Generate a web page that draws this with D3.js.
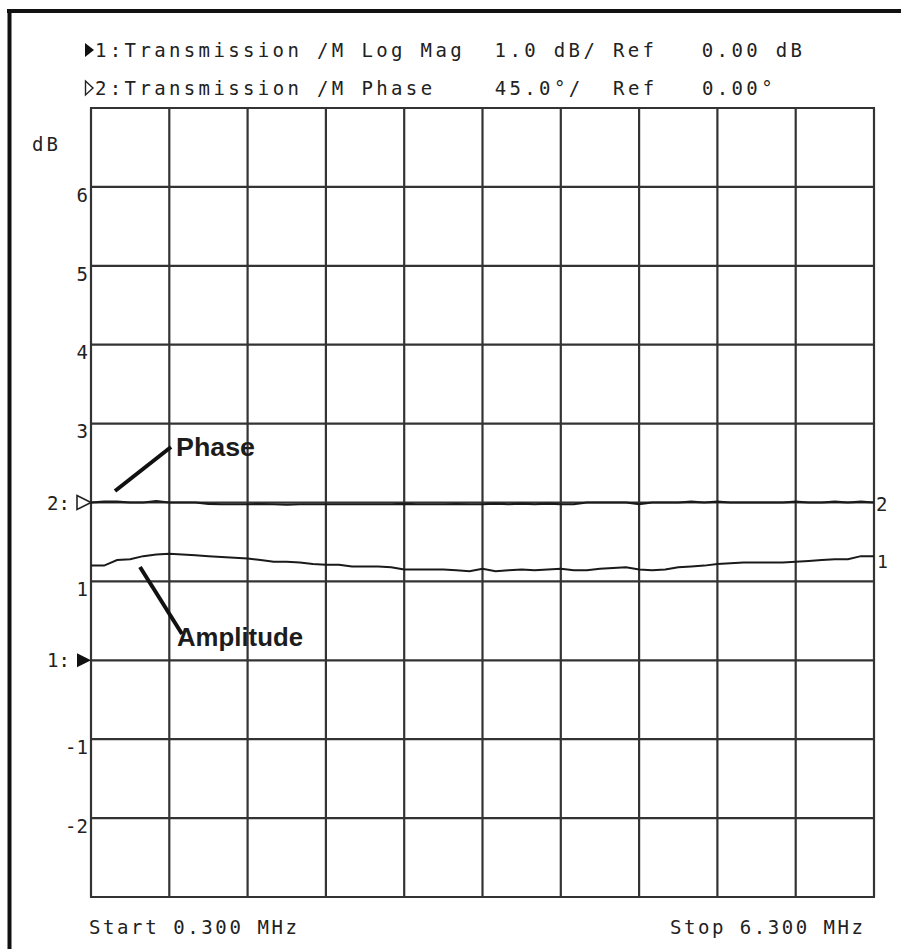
<!DOCTYPE html>
<html>
<head>
<meta charset="utf-8">
<script src="https://cdn.jsdelivr.net/npm/d3@7"></script>
<style>
  body { margin: 0; background: #fff; }
  svg { display: block; }
  .mono { font-family: "DejaVu Sans Mono", "Liberation Mono", monospace; fill: #222; white-space: pre; }
  .note { font-family: "Liberation Sans", Arial, sans-serif; font-weight: bold; fill: #1c1c1c; }
</style>
</head>
<body>
<script>
// sweep points, MHz
let freqs = [0.3, 0.4, 0.5, 0.6, 0.7, 0.8, 0.9, 1.0, 1.1, 1.2,
             1.3, 1.4, 1.5, 1.6, 1.7, 1.8, 1.9, 2.0, 2.1, 2.2,
             2.3, 2.4, 2.5, 2.6, 2.7, 2.8, 2.9, 3.0, 3.1, 3.2,
             3.3, 3.4, 3.5, 3.6, 3.7, 3.8, 3.9, 4.0, 4.1, 4.2,
             4.3, 4.4, 4.5, 4.6, 4.7, 4.8, 4.9, 5.0, 5.1, 5.2,
             5.3, 5.4, 5.5, 5.6, 5.7, 5.8, 5.9, 6.0, 6.1, 6.2, 6.3];

// trace 1: log mag, dB
let amplitude = [1.20, 1.20, 1.27, 1.28, 1.32, 1.34, 1.35, 1.34, 1.33, 1.32,
                 1.31, 1.30, 1.29, 1.27, 1.25, 1.25, 1.24, 1.22, 1.21, 1.21,
                 1.19, 1.19, 1.19, 1.18, 1.15, 1.15, 1.15, 1.15, 1.14, 1.13,
                 1.16, 1.13, 1.14, 1.15, 1.14, 1.15, 1.16, 1.14, 1.14, 1.16,
                 1.17, 1.18, 1.15, 1.14, 1.15, 1.18, 1.19, 1.20, 1.22, 1.23,
                 1.24, 1.24, 1.24, 1.24, 1.25, 1.26, 1.27, 1.28, 1.28, 1.32, 1.32];

// trace 2: phase, degrees
let phase = [0, 0.5, 0.5, 0, 0, 0.8, 0, 0, 0, -0.8,
             -1, -1, -1, -0.9, -1, -1.2, -1, -1, -1, -1,
             -1, -1, -1, -1, -0.8, -1, -1, -1, -0.9, -1,
             -1, -0.6, -1, -0.6, -1, -0.6, -1, -1, 0, 0,
             0, 0, -0.9, 0, 0, 0, 0.5, 0, 0.5, 0,
             0, 0, 0, 0, 0.5, 0, 0, 0.5, 0, 0.5, 0];

let freqGrid = [0.3, 0.9, 1.5, 2.1, 2.7, 3.3, 3.9, 4.5, 5.1, 5.7, 6.3];
let dbGrid = [-3, -2, -1, 0, 1, 2, 3, 4, 5, 6, 7];
let dbTicks = [-2, -1, 0, 1, 2, 3, 4, 5, 6];
let dbTickLabels = ["-2", "-1", "1:", "1", "2:", "3", "4", "5", "6"];

let header1 = "1:Transmission /M Log Mag  1.0 dB/ Ref   0.00 dB";
let header2 = "2:Transmission /M Phase    45.0°/  Ref   0.00°";
let startLabel = "Start 0.300 MHz";
let stopLabel = "Stop 6.300 MHz";

let W = 901, H = 949;
let pL = 91, pR = 874, pT = 108, pB = 897;
let pitch = 14.73;

let svg = d3.select("body").append("svg")
    .attr("width", W)
    .attr("height", H);

let x = d3.scaleLinear().domain([0.3, 6.3]).range([pL, pR]);
let y = d3.scaleLinear().domain([-3, 7]).range([pB, pT]);
// phase: ref 0 deg sits on the 2 dB division, 45 deg per division
let yPh = d3.scaleLinear().domain([-225, 225]).range([pB, pT]);

// page frame
svg.append("line").attr("x1", 9.5).attr("x2", 9.5).attr("y1", 9).attr("y2", H)
    .attr("stroke", "#111").attr("stroke-width", 4);
svg.append("line").attr("x1", 7).attr("x2", W).attr("y1", 11).attr("y2", 11)
    .attr("stroke", "#111").attr("stroke-width", 4);

// grid
let grid = svg.append("g").attr("stroke", "#333").attr("stroke-width", 2.2);
grid.selectAll("line.v").data(freqGrid).enter().append("line")
    .attr("class", "v")
    .attr("x1", d => x(d)).attr("x2", d => x(d))
    .attr("y1", pT).attr("y2", pB);
grid.selectAll("line.h").data(dbGrid).enter().append("line")
    .attr("class", "h")
    .attr("x1", pL - 1).attr("x2", pR + 1)
    .attr("y1", d => y(d)).attr("y2", d => y(d));

// y labels through an axis, no tick lines
let yAxis = d3.axisLeft(y)
    .tickValues(dbTicks)
    .tickSize(0)
    .tickPadding(4)
    .tickFormat((d, i) => dbTickLabels[i]);
let ya = svg.append("g").attr("transform", "translate(" + pL + ",0)").call(yAxis);
ya.select(".domain").remove();
ya.selectAll("text")
    .attr("class", "mono")
    .style("font-size", "19px")
    .attr("fill", "#222")
    .attr("dy", d => (d == 0 || d == 2) ? "0.35em" : "0.75em")
    .attr("x", d => (d == 0 || d == 2) ? -21 : -3);

// reference markers
let tri = (d) => "M" + (pL - 14) + "," + (y(d) - 7) + "L" + pL + "," + y(d) + "L" + (pL - 14) + "," + (y(d) + 7) + "Z";
svg.append("path").attr("d", tri(0)).attr("fill", "#111");
svg.append("path").attr("d", tri(2)).attr("fill", "#fff").attr("stroke", "#222").attr("stroke-width", 1.6);

svg.append("text").attr("class", "mono").attr("x", 32).attr("y", 151)
    .style("font-size", "19px")
    .attr("textLength", 26).attr("lengthAdjust", "spacing")
    .text("dB");

// traces
let ampLine = d3.line().x((d, i) => x(freqs[i])).y(d => y(d));
let phLine = d3.line().x((d, i) => x(freqs[i])).y(d => yPh(d));

svg.append("path").datum(phase)
    .attr("d", phLine)
    .attr("fill", "none").attr("stroke", "#1a1a1a").attr("stroke-width", 2.2);
svg.append("path").datum(amplitude)
    .attr("d", ampLine)
    .attr("fill", "none").attr("stroke", "#1a1a1a").attr("stroke-width", 2);

// trace end labels
svg.append("text").attr("class", "mono").attr("x", pR + 2).attr("y", yPh(phase[phase.length - 1]) + 8)
    .style("font-size", "19px").text("2");
svg.append("text").attr("class", "mono").attr("x", pR + 3).attr("y", y(amplitude[amplitude.length - 1]) + 12)
    .style("font-size", "18px").text("1");

// header
let headTri1 = "M85,43L94,50L85,57Z";
let headTri2 = "M85.5,81L93,88L85.5,95Z";
svg.append("path").attr("d", headTri1).attr("fill", "#111");
svg.append("path").attr("d", headTri2).attr("fill", "none").attr("stroke", "#222").attr("stroke-width", 1.4);
svg.append("text").attr("class", "mono").attr("x", 95).attr("y", 57)
    .style("font-size", "19px")
    .attr("textLength", header1.length * pitch).attr("lengthAdjust", "spacing")
    .text(header1);
svg.append("text").attr("class", "mono").attr("x", 95).attr("y", 95)
    .style("font-size", "19px")
    .attr("textLength", header2.length * pitch).attr("lengthAdjust", "spacing")
    .text(header2);

// footer
svg.append("text").attr("class", "mono").attr("x", 89).attr("y", 934)
    .style("font-size", "19px")
    .attr("textLength", 208).attr("lengthAdjust", "spacing")
    .text(startLabel);
svg.append("text").attr("class", "mono").attr("x", 670).attr("y", 934)
    .style("font-size", "19px")
    .attr("textLength", 193).attr("lengthAdjust", "spacing")
    .text(stopLabel);

// annotations
svg.append("line").attr("x1", 115).attr("y1", 491).attr("x2", 171).attr("y2", 447)
    .attr("stroke", "#111").attr("stroke-width", 4);
svg.append("text").attr("class", "note").attr("x", 176).attr("y", 456)
    .style("font-size", "26px").attr("textLength", 79).attr("lengthAdjust", "spacingAndGlyphs")
    .text("Phase");
svg.append("line").attr("x1", 140).attr("y1", 567).attr("x2", 182).attr("y2", 634)
    .attr("stroke", "#111").attr("stroke-width", 4);
svg.append("text").attr("class", "note").attr("x", 177).attr("y", 646)
    .style("font-size", "26px").attr("textLength", 126).attr("lengthAdjust", "spacingAndGlyphs")
    .text("Amplitude");
</script>
</body>
</html>
